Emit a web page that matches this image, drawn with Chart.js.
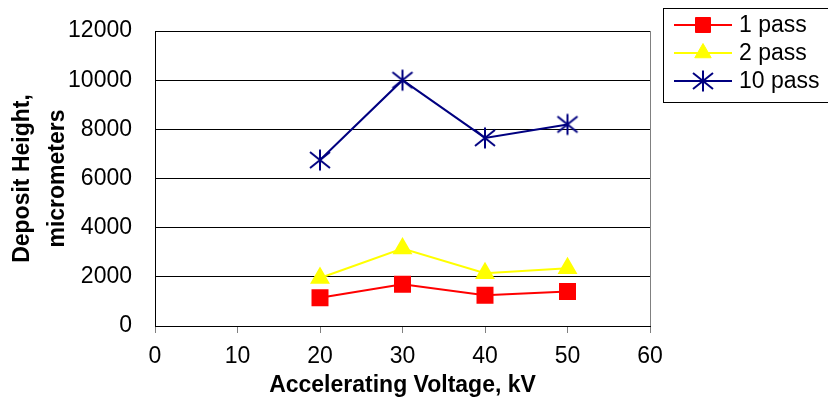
<!DOCTYPE html>
<html>
<head>
<meta charset="utf-8">
<script src="https://cdn.jsdelivr.net/npm/chart.js@4"></script>
<style>
  html, body { margin: 0; padding: 0; background: #fff; }
</style>
</head>
<body>
<canvas id="myChart" width="828" height="401"></canvas>
<script>
const voltages = [20, 30, 40, 50];
const pass1 = [1150, 1700, 1250, 1400];
const pass2 = [1950, 3150, 2150, 2350];
const pass10 = [6750, 10000, 7650, 8200];
const xTicks = [0, 10, 20, 30, 40, 50, 60];
const yTicks = [0, 2000, 4000, 6000, 8000, 10000, 12000];

const FONT = "'Liberation Sans', Arial, sans-serif";

// excel style star: vertical bar plus an X
function makeStar(color) {
  const c = document.createElement("canvas");
  c.width = 24;
  c.height = 24;
  const g = c.getContext("2d");
  g.strokeStyle = color;
  g.lineWidth = 2;
  g.beginPath();
  g.moveTo(12, 1.5);
  g.lineTo(12, 22.5);
  g.moveTo(2, 4);
  g.lineTo(22, 20);
  g.moveTo(22, 4);
  g.lineTo(2, 20);
  g.stroke();
  return c;
}

const star = makeStar("#000080");

function toPoints(ys) {
  return voltages.map((v, i) => ({ x: v, y: ys[i] }));
}

// legend box + right plot border
const extras = {
  id: "extras",
  afterDraw(chart) {
    const ctx = chart.ctx;
    const a = chart.chartArea;
    ctx.save();
    ctx.strokeStyle = "#808080";
    ctx.lineWidth = 1;
    ctx.beginPath();
    ctx.moveTo(a.right + 0.5, a.top);
    ctx.lineTo(a.right + 0.5, a.bottom);
    ctx.stroke();

    ctx.strokeStyle = "#000";
    ctx.strokeRect(663.5, 8.5, 200, 94);

    chart.data.datasets.forEach((ds, i) => {
      const y = 25 + i * 28;
      ctx.strokeStyle = ds.borderColor;
      ctx.lineWidth = 2;
      ctx.beginPath();
      ctx.moveTo(674, y);
      ctx.lineTo(732, y);
      ctx.stroke();
      ctx.fillStyle = ds.pointBackgroundColor;
      ctx.strokeStyle = ds.pointBorderColor;
      ctx.lineWidth = 1;
      Chart.helpers.drawPoint(ctx, {
        pointStyle: ds.pointStyle,
        radius: ds.pointRadius,
        borderWidth: 1,
        rotation: 0,
      }, 703, y);
      ctx.fillStyle = "#000";
      ctx.font = "23px " + FONT;
      ctx.textAlign = "left";
      ctx.textBaseline = "middle";
      ctx.fillText(ds.label, 739, y + 1);
    });
    ctx.restore();
  },
};

new Chart("myChart", {
  type: "line",
  data: {
    datasets: [
      {
        label: "1 pass",
        data: toPoints(pass1),
        borderColor: "#FF0000",
        borderWidth: 2,
        pointStyle: "rect",
        pointRadius: 10.6,
        pointBackgroundColor: "#FF0000",
        pointBorderColor: "#FF0000",
        fill: false,
      },
      {
        label: "2 pass",
        data: toPoints(pass2),
        borderColor: "#FFFF00",
        borderWidth: 2,
        pointStyle: "triangle",
        pointRadius: 9.5,
        pointBackgroundColor: "#FFFF00",
        pointBorderColor: "#FFFF00",
        fill: false,
      },
      {
        label: "10 pass",
        data: toPoints(pass10),
        borderColor: "#000080",
        borderWidth: 2,
        pointStyle: star,
        pointRadius: 11,
        pointBackgroundColor: "#000080",
        pointBorderColor: "#000080",
        fill: false,
      },
    ],
  },
  options: {
    responsive: false,
    animation: false,
    layout: {
      padding: { left: 0, right: 178, top: 31, bottom: 0 },
    },
    plugins: {
      legend: { display: false },
      tooltip: { enabled: false },
    },
    scales: {
      x: {
        type: "linear",
        min: 0,
        max: 60,
        afterBuildTicks: (s) => {
          s.ticks = xTicks.map((v) => ({ value: v }));
        },
        afterFit: (s) => {
          s.height = 75;
        },
        grid: {
          drawOnChartArea: false,
          drawTicks: true,
          tickLength: 7,
          color: "#808080",
        },
        border: { color: "#000", width: 1 },
        ticks: {
          color: "#000",
          padding: 10,
          maxRotation: 0,
          callback: (v) => String(v),
          font: { family: FONT, size: 23 },
        },
        title: {
          display: true,
          text: "Accelerating Voltage, kV",
          color: "#000",
          padding: { top: 0, bottom: 2 },
          font: { family: FONT, size: 23, weight: "bold" },
        },
      },
      y: {
        min: 0,
        max: 12000,
        afterBuildTicks: (s) => {
          s.ticks = yTicks.map((v) => ({ value: v }));
        },
        afterFit: (s) => {
          s.width = 155;
          s.paddingTop = 0;
          s.paddingBottom = 0;
        },
        grid: {
          color: "#000",
          drawTicks: false,
        },
        border: { color: "#000", width: 1 },
        ticks: {
          color: "#000",
          padding: 23,
          callback: (v) => String(v),
          font: { family: FONT, size: 23 },
        },
        title: {
          display: true,
          text: ["Deposit Height,", "micrometers"],
          color: "#000",
          padding: { top: 5, bottom: 0 },
          font: { family: FONT, size: 23, weight: "bold", lineHeight: 1.53 },
        },
      },
    },
  },
  plugins: [extras],
});
</script>
</body>
</html>
